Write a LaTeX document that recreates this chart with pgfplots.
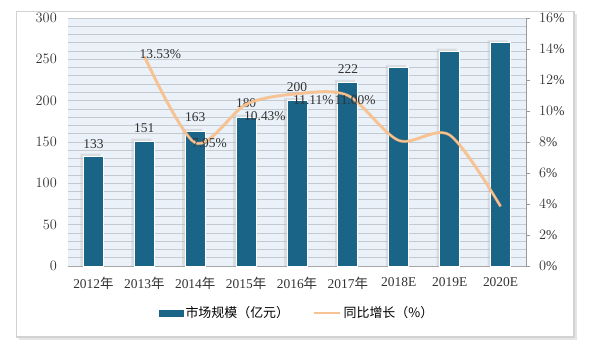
\documentclass[border=0pt]{standalone}
\usepackage{pgfplots}
\pgfplotsset{compat=1.18}
\usepackage{fontspec}
\setmainfont{Liberation Serif}
\newfontfamily\cjk{Noto Sans CJK SC}
\definecolor{barblue}{HTML}{1A6488}
\definecolor{lineor}{HTML}{F8C292}
\definecolor{bgblue}{HTML}{EAF1F8}
\definecolor{gridg}{HTML}{C5CACF}
\begin{document}
\begin{tikzpicture}[x=1bp,y=1bp]
\useasboundingbox (0,0) rectangle (591,357);
\fill[white] (0,0) rectangle (591,357);
\fill[gray!20] (19,17) rectangle (577,343);
\fill[gray!35] (16,19) rectangle (575,346);
\fill[white] (17,21) rectangle (573,345);
\begin{axis}[
  at={(68bp,91bp)}, anchor=south west, scale only axis,
  width=458bp, height=248bp,
  xmin=-0.5, xmax=8.5, ymin=0, ymax=300,
  axis x line*=bottom, axis y line*=left,
  y axis line style={draw=none},
  x axis line style={gray!70, line width=0.8bp},
  ytick={0,50,...,300}, minor ytick={0,10,...,300},
  major tick length=0pt, minor tick length=0pt,
  ymajorgrids, yminorgrids,
  major grid style={gridg, line width=0.8bp},
  minor grid style={gridg, line width=0.8bp},
  axis background/.style={fill=bgblue},
  xtick={0,...,8},
  xticklabels={2012{\cjk 年},2013{\cjk 年},2014{\cjk 年},2015{\cjk 年},2016{\cjk 年},2017{\cjk 年},2018E,2019E,2020E},
  ticklabel style={font=\fontsize{13.5}{15}\selectfont, text=black!80},
  yticklabel style={anchor=east, inner sep=0pt, xshift=-11bp},
  xticklabel style={anchor=north, inner sep=0pt, yshift=-11bp},
  legend style={at={(0.5,-0.19)}, anchor=center, draw=none, fill=none,
    font=\cjk\fontsize{13}{15}\selectfont, legend columns=2,
    /tikz/every even column/.append style={column sep=22bp}},
  clip=false,
]
\addplot[ybar, bar width=20bp, bar shift=-3bp, fill=gray!60, draw=none, opacity=0.3, forget plot]
  coordinates {(0,136) (1,154) (2,166) (3,183) (4,203) (5,225) (6,243) (7,263) (8,273)};
\addplot[ybar, bar width=20bp, fill=barblue, draw=white, line width=0.8bp,
  legend image code/.code={\fill[barblue] (0bp,-3bp) rectangle (24bp,3bp);}]
  coordinates {(0,133) (1,151) (2,163) (3,180) (4,200) (5,222) (6,240) (7,260) (8,270)};
\addlegendentry{市场规模（亿元）}
\addlegendimage{lineor, line width=2.5bp, legend image code/.code={\draw[lineor, line width=2.5bp] (0bp,0bp) -- (26bp,0bp);}}
\addlegendentry{同比增长（\%）}
\begin{scope}[every node/.style={font=\fontsize{13.5}{15}\selectfont, text=black!80}]
\node at (axis cs:0,147.6) {133};
\node at (axis cs:1,166.9) {151};
\node at (axis cs:2,180.2) {163};
\node at (axis cs:3,196.6) {180};
\node at (axis cs:4,216.5) {200};
\node at (axis cs:5,237.7) {222};
\end{scope}
\end{axis}
\begin{axis}[
  at={(68bp,91bp)}, anchor=south west, scale only axis,
  width=458bp, height=248bp,
  xmin=-0.5, xmax=8.5, ymin=0, ymax=16,
  axis x line=none, axis y line*=right,
  y axis line style={gray!80, line width=0.8bp},
  ytick={0,2,...,16}, tick align=outside, major tick length=4bp,
  tick style={gray!80, line width=0.8bp},
  yticklabel={\pgfmathprintnumber{\tick}\%},
  ticklabel style={font=\fontsize{13.5}{15}\selectfont, text=black!80},
  yticklabel style={anchor=west, inner sep=0pt, xshift=9bp},
  clip=false,
]
\addplot[lineor!70!orange, line width=3bp, smooth, tension=0.5, opacity=0.6] coordinates {(1,13.53) (2,7.95) (3,10.43) (4,11.11) (5,11.00) (6,8.1) (7,8.45) (8,3.85)};
\addplot[lineor, line width=2bp, smooth, tension=0.5] coordinates {(1,13.53) (2,7.95) (3,10.43) (4,11.11) (5,11.00) (6,8.1) (7,8.45) (8,3.85)};
\begin{scope}[every node/.style={font=\fontsize{13.5}{15}\selectfont, text=black!80}]
\node at (axis cs:1.314,13.68) {13.53\%};
\node at (axis cs:2.28,7.94) {7.95\%};
\node at (axis cs:3.37,9.68) {10.43\%};
\node at (axis cs:4.32,10.71) {11.11\%};
\node at (axis cs:5.14,10.71) {11.00\%};
\end{scope}
\end{axis}
\end{tikzpicture}
\end{document}
